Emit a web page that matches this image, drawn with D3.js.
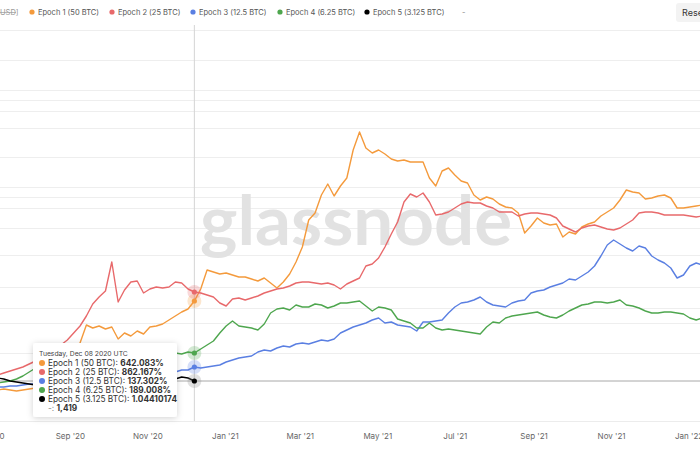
<!DOCTYPE html>
<html>
<head>
<meta charset="utf-8">
<script src="https://cdn.jsdelivr.net/npm/d3@7"></script>
<style>
  body { margin: 0; background: #fff; }
  svg { display: block; font-family: Inter, "Noto Sans", sans-serif; }
</style>
</head>
<body>
<svg id="chart" width="700" height="450"></svg>
<script>
// samples every 5 days starting Jul 6 2020
const start_date = new Date(2020, 6, 6);
const step_days = 5;

const epoch_1 = [
  30, 31, 30, 29, 30, 31, 32, 34, 38, 44,
  52, 60, 70, 77, 95, 92, 94, 91, 93, 81,
  87, 84, 89, 86, 93, 94, 96, 100, 104, 108,
  111, 119, 131, 150, 148, 146, 147, 145, 143, 143,
  141, 139, 142, 137, 132, 138, 146, 158, 173, 200,
  207, 225, 236, 224, 234, 242, 270, 288, 272, 267,
  270, 266, 261, 259, 260, 258, 258, 258, 242, 234,
  249, 252, 245, 239, 237, 225, 220, 223, 221, 216,
  213, 212, 207, 187, 194, 202, 197, 195, 196, 183,
  188, 186, 193, 196, 198, 204, 208, 212, 220, 230,
  228, 227, 221, 222, 224, 225, 222, 212, 212, 213,
  214, 215
];
const epoch_2 = [
  45, 47, 49, 51, 53, 56, 59, 64, 68, 71,
  75, 80, 87, 94, 104, 116, 123, 129, 158, 118,
  130, 138, 139, 127, 131, 133, 132, 133, 138, 137,
  131, 128, 127, 125, 123, 117, 114, 121, 122, 120,
  122, 124, 127, 129, 131, 132, 134, 137, 138, 138,
  137, 136, 137, 135, 131, 136, 139, 142, 154, 156,
  162, 173, 186, 198, 218, 226, 223, 227, 218, 205,
  206, 208, 212, 216, 218, 217, 217, 214, 212, 208,
  208, 208, 204, 206, 207, 207, 206, 205, 202, 194,
  191, 188, 192, 194, 195, 193, 191, 190, 192, 196,
  200, 207, 208, 208, 207, 205, 205, 205, 205, 204,
  203, 204
];
const epoch_3 = [
  33, 33, 34, 34, 35, 36, 36, 37, 37, 38,
  38, 39, 39, 40, 40, 41, 41, 42, 42, 43,
  43, 44, 45, 45, 46, 46, 47, 48, 48, 50,
  50, 53, 52, 53, 54, 55, 58, 60, 62, 63,
  64, 68, 70, 69, 72, 74, 73, 76, 77, 76,
  78, 80, 79, 81, 87, 90, 93, 95, 97, 100,
  102, 97, 98, 95, 94, 93, 89, 98, 98, 99,
  100, 107, 113, 117, 118, 120, 123, 118, 115, 114,
  113, 117, 119, 120, 127, 129, 130, 133, 135, 137,
  141, 140, 144, 148, 154, 164, 175, 180, 176, 172,
  169, 174, 172, 164, 160, 157, 152, 142, 145, 154,
  157, 155
];
const epoch_4 = [
  37, 38, 39, 41, 44, 48, 52, 48, 49, 50,
  52, 54, 55, 56, 58, 57, 59, 60, 59, 61,
  62, 63, 63, 64, 65, 66, 65, 66, 67, 66,
  68, 67, 71, 75, 79, 87, 94, 99, 94, 93,
  92, 90, 96, 107, 111, 112, 110, 115, 113, 113,
  116, 115, 112, 114, 117, 117, 118, 119, 114, 109,
  113, 112, 110, 101, 99, 97, 92, 92, 97, 92,
  90, 91, 90, 89, 88, 87, 86, 93, 98, 97,
  102, 104, 105, 106, 107, 108, 105, 103, 102, 105,
  109, 112, 115, 116, 118, 118, 117, 118, 120, 115,
  114, 112, 109, 107, 107, 108, 108, 107, 106, 102,
  100, 102
];
const epoch_5 = [
  42, 41, 39, 38, 37, 36, 35, 35, 34, 34,
  33, 33, 34, 34, 35, 35, 36, 36, 37, 37,
  38, 38, 39, 39, 39, 40, 40, 40, 41, 43,
  42, 39
];

const series_names = ["Epoch 1 (50 BTC)", "Epoch 2 (25 BTC)", "Epoch 3 (12.5 BTC)", "Epoch 4 (6.25 BTC)", "Epoch 5 (3.125 BTC)"];
const series_colors = ["#f49a3c", "#e8696b", "#5a7fe2", "#4ea64e", "#000000"];
const hover_values = ["642.083%", "862.167%", "137.302%", "189.008%", "1.04410174"];
const hover_index = 31;
const hover_title = "Tuesday, Dec 08 2020 UTC";
const hover_extra = "1,419";

const tick_labels = ["Jul '20", "Sep '20", "Nov '20", "Jan '21", "Mar '21", "May '21", "Jul '21", "Sep '21", "Nov '21", "Jan '22"];
const tick_dates = [
  new Date(2020, 6, 1), new Date(2020, 8, 1), new Date(2020, 10, 1), new Date(2021, 0, 1), new Date(2021, 2, 1),
  new Date(2021, 4, 1), new Date(2021, 6, 1), new Date(2021, 8, 1), new Date(2021, 10, 1), new Date(2022, 0, 1)
];
const grid_values = [390, 360, 330, 320, 309, 292, 263, 233, 223, 212, 192, 165, 133, 112, 97, 67];

const all_series = [epoch_1, epoch_2, epoch_3, epoch_4, epoch_5];
const dates = d3.range(epoch_1.length).map((i) => d3.timeDay.offset(start_date, i * step_days));

const width = 700;
const height = 450;
const plot_top = 25;
const plot_bottom = 421;

const svg = d3.select("#chart");

const x = d3.scaleTime()
  .domain([new Date(2020, 6, 8), new Date(2022, 0, 10)])
  .range([0, width]);
const y = d3.scaleLinear().domain([0, 400]).range([420, 20]);

// shadow for tooltip
const defs = svg.append("defs");
defs.append("filter")
  .attr("id", "shadow")
  .attr("x", "-20%").attr("y", "-20%").attr("width", "140%").attr("height", "150%")
  .append("feDropShadow")
  .attr("dx", 0).attr("dy", 1)
  .attr("stdDeviation", 3)
  .attr("flood-color", "#000")
  .attr("flood-opacity", 0.18);

// grid
svg.append("g")
  .selectAll("line")
  .data(grid_values)
  .join("line")
  .attr("x1", 0).attr("x2", width)
  .attr("y1", (d) => Math.round(y(d)) + 0.5)
  .attr("y2", (d) => Math.round(y(d)) + 0.5)
  .attr("stroke", "#eeeeee");

svg.append("line")
  .attr("x1", 0).attr("x2", width)
  .attr("y1", plot_bottom + 0.5).attr("y2", plot_bottom + 0.5)
  .attr("stroke", "#ececec");

// watermark
svg.append("text")
  .attr("x", 356)
  .attr("y", 245)
  .attr("text-anchor", "middle")
  .attr("font-family", "Lato, 'Open Sans', sans-serif")
  .attr("font-size", 68)
  .attr("font-weight", 700)
  .attr("fill", "#e2e2e2")
  .attr("textLength", 312)
  .attr("lengthAdjust", "spacingAndGlyphs")
  .text("glassnode");

// crosshair
const hover_x = x(dates[hover_index]);
svg.append("line")
  .attr("x1", hover_x).attr("x2", hover_x)
  .attr("y1", plot_top).attr("y2", plot_bottom)
  .attr("stroke", "#d4d4d4");
svg.append("line")
  .attr("x1", 0).attr("x2", width)
  .attr("y1", y(epoch_5[hover_index])).attr("y2", y(epoch_5[hover_index]))
  .attr("stroke", "#a8a8a8");

// lines
const line = d3.line()
  .x((d, i) => x(dates[i]))
  .y((d) => y(d));

svg.append("g")
  .attr("fill", "none")
  .attr("stroke-width", 1.4)
  .attr("stroke-linejoin", "round")
  .selectAll("path")
  .data(all_series)
  .join("path")
  .attr("stroke", (d, i) => series_colors[i])
  .attr("d", line);

// hover markers
const markers = svg.append("g")
  .selectAll("g")
  .data(all_series)
  .join("g")
  .attr("transform", (d) => `translate(${hover_x},${y(d[hover_index])})`);
markers.append("circle")
  .attr("r", 7)
  .attr("fill", (d, i) => (i === 4 ? "#888" : series_colors[i]))
  .attr("opacity", 0.25);
markers.append("circle")
  .attr("r", 2.6)
  .attr("fill", (d, i) => series_colors[i]);

// x axis
const x_axis = svg.append("g")
  .attr("transform", `translate(0,${plot_bottom})`)
  .call(
    d3.axisBottom(x)
      .tickValues(tick_dates)
      .tickFormat((d, i) => tick_labels[i])
      .tickSize(0)
      .tickPadding(12)
  );
x_axis.select(".domain").remove();
x_axis.selectAll("text")
  .attr("font-family", "Inter, sans-serif")
  .attr("font-size", 8)
  .attr("fill", "#666");

// legend
const legend_x = [32, 112, 193, 280, 367];
svg.append("text")
  .attr("x", 0).attr("y", 15)
  .attr("font-size", 7.5)
  .attr("fill", "#9a9a9a")
  .text("USD]");
svg.append("line")
  .attr("x1", 0).attr("x2", 16)
  .attr("y1", 12.5).attr("y2", 12.5)
  .attr("stroke", "#9a9a9a")
  .attr("stroke-width", 0.7);

const legend = svg.append("g")
  .selectAll("g")
  .data(series_names)
  .join("g")
  .attr("transform", (d, i) => `translate(${legend_x[i]},12)`);
legend.append("circle")
  .attr("r", 2.6)
  .attr("fill", (d, i) => series_colors[i]);
legend.append("text")
  .attr("x", 6)
  .attr("y", 3)
  .attr("font-size", 7.5)
  .attr("fill", "#555")
  .text((d) => d);
svg.append("text")
  .attr("x", 462).attr("y", 15)
  .attr("font-size", 7.5)
  .attr("fill", "#888")
  .text("-");

// reset button
svg.append("rect")
  .attr("x", 676).attr("y", 3)
  .attr("width", 40).attr("height", 19)
  .attr("rx", 3)
  .attr("fill", "#f3f3f3");
svg.append("text")
  .attr("x", 682).attr("y", 16)
  .attr("font-size", 9)
  .attr("fill", "#333")
  .text("Reset");

// tooltip
const tip = svg.append("g").attr("transform", "translate(33,343)");
tip.append("rect")
  .attr("width", 144)
  .attr("height", 74)
  .attr("rx", 3)
  .attr("fill", "#fff")
  .attr("filter", "url(#shadow)");
tip.append("text")
  .attr("x", 6).attr("y", 13)
  .attr("font-size", 6.8)
  .attr("fill", "#444")
  .text(hover_title);

const rows = tip.append("g")
  .selectAll("g")
  .data(series_names)
  .join("g")
  .attr("transform", (d, i) => `translate(0,${20 + i * 9})`);
rows.append("circle")
  .attr("cx", 9)
  .attr("r", 3)
  .attr("fill", (d, i) => series_colors[i]);
const row_text = rows.append("text")
  .attr("x", 15)
  .attr("y", 3)
  .attr("font-size", 8.3)
  .attr("fill", "#333");
row_text.append("tspan").text((d) => d + ": ");
row_text.append("tspan")
  .attr("font-weight", 700)
  .text((d, i) => hover_values[i]);

const extra = tip.append("text")
  .attr("x", 15)
  .attr("y", 20 + 5 * 9 + 3)
  .attr("font-size", 8.3)
  .attr("fill", "#333");
extra.append("tspan").attr("fill", "#888").text("-: ");
extra.append("tspan").attr("font-weight", 700).text(hover_extra);
</script>
</body>
</html>
